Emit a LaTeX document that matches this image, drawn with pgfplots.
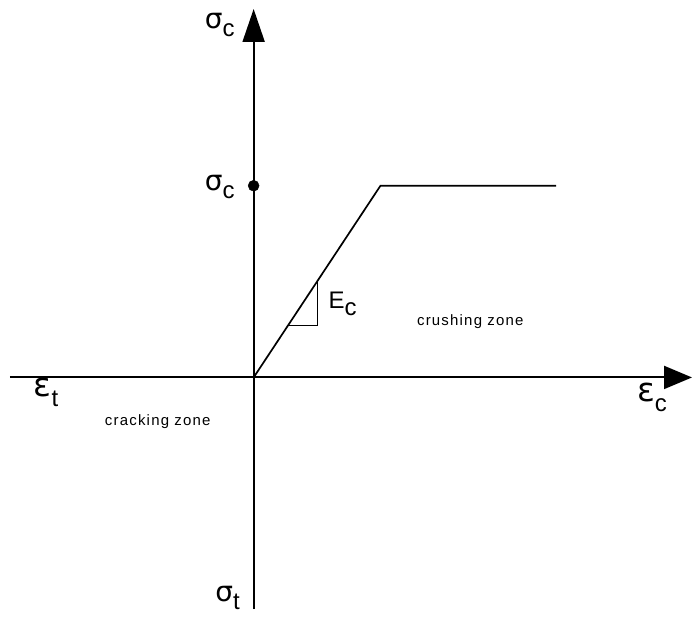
\documentclass[border=0pt]{standalone}
\usepackage{pgfplots}
\pgfplotsset{compat=1.18}
\usetikzlibrary{arrows.meta}
\usepackage{fontspec}
\setmainfont{Liberation Sans}
\newfontfamily\gr{DejaVu Sans}
\newcommand{\lab}[4]{{\fontsize{#1}{#1}\selectfont\gr #3\raisebox{-0.3em}{\fontsize{#2}{#2}\selectfont\rmfamily #4}}}
\begin{document}
\begin{tikzpicture}
\begin{axis}[
  hide axis, scale only axis, width=693pt, height=619pt,
  xmin=0, xmax=693, ymin=0, ymax=619, clip=false,
]
\addplot[draw=none] coordinates {(0,0) (693,619)};
% axes
\addplot[black, line width=2pt, -{Triangle[length=33pt,width=22pt]}] coordinates {(254,9) (254,610)};
\addplot[black, line width=2pt, -{Triangle[length=28pt,width=23pt]}] coordinates {(10,241) (693,241)};
% constitutive curve
\addplot[black, line width=1.7pt] coordinates {(254,241) (381,433) (557,433)};
% slope triangle
\addplot[black, line width=1.7pt] coordinates {(287,293) (318,293) (318,339)};
% dot
\addplot[black, only marks, mark=*, mark size=5.5pt] coordinates {(254,433)};
% labels
\node at (axis cs:220,594) {\lab{28}{24}{σ}{c}};
\node at (axis cs:220,432) {\lab{28}{24}{σ}{c}};
\node at (axis cs:228,20) {\lab{28}{24}{σ}{t}};
\node at (axis cs:46,226) {\lab{33}{24}{ε}{t}};
\node at (axis cs:653,221) {\lab{33}{24}{ε}{c}};
\node at (axis cs:343,315) {{\fontsize{24}{24}\selectfont E\raisebox{-0.3em}{c}}};
\node at (axis cs:471,297) {\fontsize{15}{15}\selectfont\addfontfeatures{LetterSpace=8}crushing zone};
\node at (axis cs:158,197) {\fontsize{15}{15}\selectfont\addfontfeatures{LetterSpace=8}cracking zone};
\end{axis}
\end{tikzpicture}
\end{document}
